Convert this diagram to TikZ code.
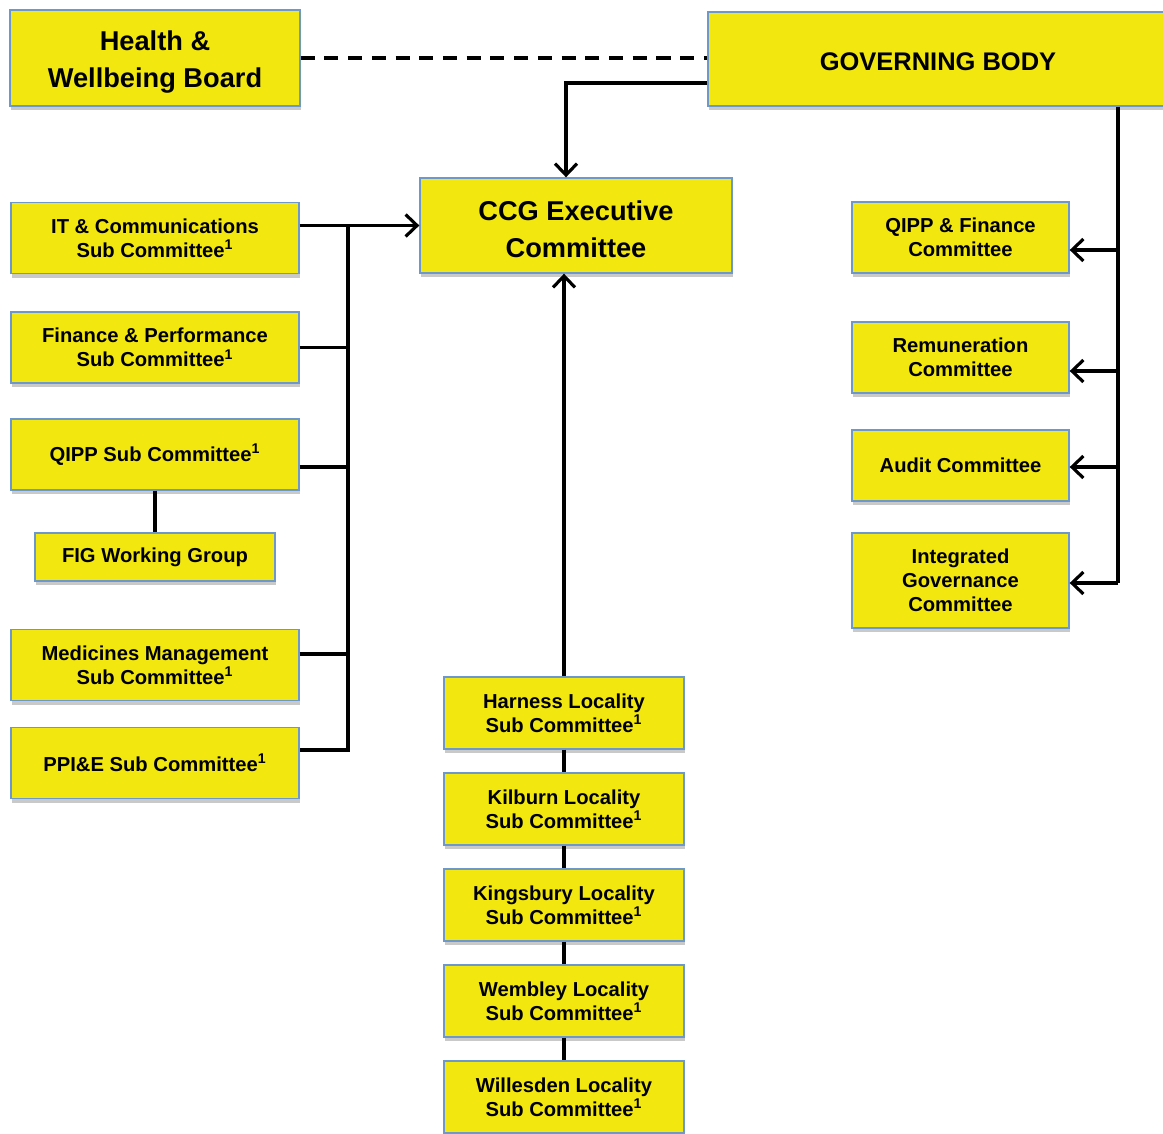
\documentclass[tikz,border=0pt]{standalone}
\usepackage{fontspec}
\setmainfont{Liberation Sans}
\usetikzlibrary{arrows.meta,shadows,calc}
\definecolor{CCGYellow}{HTML}{F2E80F}
\definecolor{CCGEdge}{HTML}{6E98CC}
\tikzset{
  cbox/.style={draw=CCGEdge,line width=0.8pt,fill=CCGYellow,align=center,inner sep=1pt,
    font=\bfseries\fontsize{11.5}{13.6}\selectfont,
    drop shadow={shadow xshift=0.8pt,shadow yshift=-2.4pt,opacity=0.3,fill=black!70}},
  bigbox/.style={cbox,font=\bfseries\fontsize{15.5}{21}\selectfont},
  sidebox/.style={cbox,minimum width=5.76cm,minimum height=1.42cm},
  localbox/.style={cbox,minimum width=4.8cm,minimum height=1.44cm},
  rightbox/.style={cbox,minimum width=4.34cm,minimum height=1.42cm},
  link/.style={line width=1.8pt},
  arr/.style={link,-{Straight Barb[length=6.5pt,width=12.5pt,line width=1.8pt]}}
}
\newcommand{\fn}{\textsuperscript{1}}
\newcommand{\lowstrut}{\rule{0pt}{16pt}}

\begin{document}
\begin{tikzpicture}[x=0.02cm,y=-0.02cm]
\useasboundingbox (0,0) rectangle (1163,1133);
% top row
\node[bigbox,minimum width=5.8cm,minimum height=1.92cm] (hwb) at (155,58) {\lowstrut Health \&\\Wellbeing Board};
\node[bigbox,font=\bfseries\fontsize{14.5}{20}\selectfont,minimum width=9.2cm,minimum height=1.88cm,text height=13.5pt] (gb) at (938,59) {GOVERNING BODY};
\node[bigbox,minimum width=6.24cm,minimum height=1.9cm] (ccg) at (576,225.5) {\lowstrut CCG Executive\\Committee};
% left sub committees
\node[sidebox] (it) at (155,238) {IT \& Communications\\Sub Committee\fn};
\node[sidebox] (fin) at (155,347.5) {Finance \& Performance\\Sub Committee\fn};
\node[sidebox] (qipp) at (155,454.5) {QIPP Sub Committee\fn};
\node[cbox,minimum width=4.8cm,minimum height=0.96cm] (fig) at (155,557) {FIG Working Group};
\node[sidebox] (med) at (155,665) {Medicines Management\\Sub Committee\fn};
\node[sidebox] (ppie) at (155,763) {PPI\&E Sub Committee\fn};
% localities
\node[localbox] (harness) at (564,713) {Harness Locality\\Sub Committee\fn};
\node[localbox] (kilburn) at (564,809) {Kilburn Locality\\Sub Committee\fn};
\node[localbox] (kingsbury) at (564,905) {Kingsbury Locality\\Sub Committee\fn};
\node[localbox] (wembley) at (564,1001) {Wembley Locality\\Sub Committee\fn};
\node[localbox] (willesden) at (564,1097) {Willesden Locality\\Sub Committee\fn};
% governing body committees
\node[rightbox] (qfc) at (960.5,237.5) {QIPP \& Finance\\Committee};
\node[rightbox] (rem) at (960.5,357.5) {Remuneration\\Committee};
\node[rightbox] (audit) at (960.5,465.5) {Audit Committee};
\node[rightbox,minimum height=1.9cm] (igc) at (960.5,580.5) {Integrated\\Governance\\Committee};

\coordinate (busL) at (348,0);
\coordinate (busR) at (1118,0);
\coordinate (qippj) at ($(qipp.east)+(0,12.5)$);
\coordinate (medj) at ($(med.east)+(0,-11)$);
\coordinate (ppiej) at ($(ppie.east)+(0,-13)$);
\coordinate (gbj) at ($(gb.west)+(0,24)$);
\coordinate (qfcj) at ($(qfc.east)+(0,12.5)$);
\coordinate (remj) at ($(rem.east)+(0,13.5)$);
\coordinate (auditj) at ($(audit.east)+(0,1.5)$);
\coordinate (igcj) at ($(igc.east)+(0,2.5)$);

\draw[link,dash pattern=on 8pt off 5.5pt,line width=2.2pt] (hwb.east) -- (hwb.east -| gb.west);
\draw[arr] (gbj) -| ($(ccg.north)+(-10,0)$);

\draw[arr] (it.east |- ccg.west) -- (ccg.west);
\draw[link] (busL |- ccg.west) -- (busL |- ppiej) -- (ppiej);
\draw[link] (fin.east) -- (fin.east -| busL);
\draw[link] (qippj) -- (qippj -| busL);
\draw[link] (medj) -- (medj -| busL);
\draw[link] (qipp.south) -- (fig.north);

\draw[arr] (harness.north) -- (harness.north |- ccg.south);
\draw[link] (harness.south) -- (kilburn.north);
\draw[link] (kilburn.south) -- (kingsbury.north);
\draw[link] (kingsbury.south) -- (wembley.north);
\draw[link] (wembley.south) -- (willesden.north);

\draw[link] (gb.south -| busR) -- (busR |- igcj);
\draw[arr] (qfcj -| busR) -- (qfcj);
\draw[arr] (remj -| busR) -- (remj);
\draw[arr] (auditj -| busR) -- (auditj);
\draw[arr] (igcj -| busR) -- (igcj);
\end{tikzpicture}
\end{document}
